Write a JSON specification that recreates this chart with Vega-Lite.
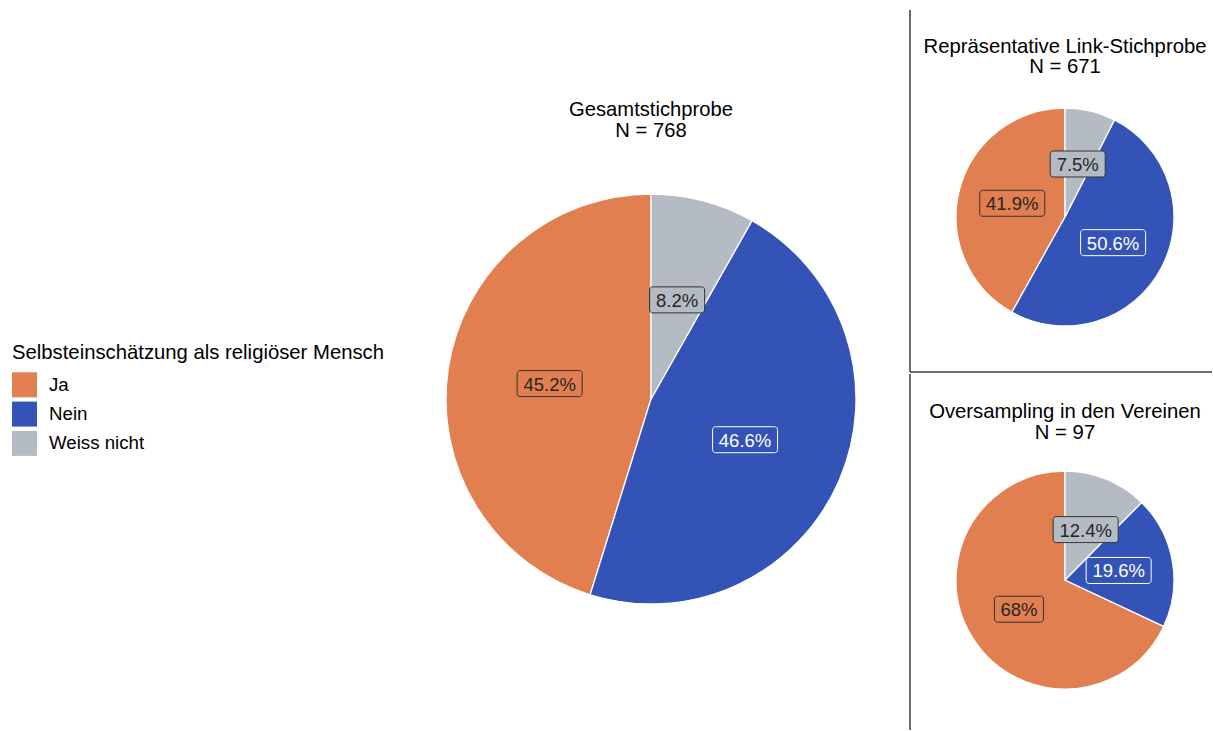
{
  "$schema": "https://vega.github.io/schema/vega-lite/v6.json",
  "padding": 0,
  "spacing": 0,
  "config": {
    "font": "Liberation Sans",
    "view": {"stroke": null},
    "axis": {"disable": true}
  },
  "datasets": {
    "pies": [
      {"panel": "Gesamt", "cat": "Ja", "pct": 45.2, "label": "45.2%"},
      {"panel": "Gesamt", "cat": "Nein", "pct": 46.6, "label": "46.6%"},
      {"panel": "Gesamt", "cat": "Weiss nicht", "pct": 8.2, "label": "8.2%"},
      {"panel": "Link", "cat": "Ja", "pct": 41.9, "label": "41.9%"},
      {"panel": "Link", "cat": "Nein", "pct": 50.6, "label": "50.6%"},
      {"panel": "Link", "cat": "Weiss nicht", "pct": 7.5, "label": "7.5%"},
      {"panel": "Over", "cat": "Ja", "pct": 68, "label": "68%"},
      {"panel": "Over", "cat": "Nein", "pct": 19.6, "label": "19.6%"},
      {"panel": "Over", "cat": "Weiss nicht", "pct": 12.4, "label": "12.4%"}
    ]
  },
  "resolve": {"scale": {"x": "independent", "y": "independent", "color": "independent"}},
  "hconcat": [
    {
      "width": 909,
      "height": 731,
      "data": {"name": "pies"},
      "transform": [
        {"filter": "datum.panel === 'Gesamt'"},
        {"calculate": "indexof(['Weiss nicht','Nein','Ja'], datum.cat)", "as": "ord"}
      ],
      "layer": [
        {
          "mark": {"type": "arc", "outerRadius": 205, "stroke": "white", "strokeWidth": 1.3},
          "encoding": {
            "x": {"datum": 0, "type": "quantitative", "scale": {"domain": [-3.17561, 1.25854], "nice": false, "zero": false}, "axis": null},
            "y": {"datum": 0, "type": "quantitative", "scale": {"domain": [-1.61951, 1.94634], "nice": false, "zero": false}, "axis": null},
            "theta": {"field": "pct", "type": "quantitative", "stack": true},
            "order": {"field": "ord", "type": "quantitative"},
            "color": {
              "field": "cat", "type": "nominal",
              "scale": {"domain": ["Ja", "Nein", "Weiss nicht"], "range": ["#E27F51", "#3353B7", "#B4BBC3"]},
              "legend": {
                "title": "Selbsteinschätzung als religiöser Mensch",
                "orient": "none", "legendX": 12, "legendY": 343,
                "padding": 0,
                "symbolType": "square", "symbolSize": 625, "symbolStrokeWidth": 0, "symbolOpacity": 1,
                "titleFontSize": 20.3, "titleFontWeight": "normal", "titleColor": "black", "titlePadding": 9, "titleLimit": 600,
                "labelFontSize": 18.7, "labelColor": "black", "labelOffset": 12,
                "rowPadding": 4.3
              }
            }
          }
        },
        {
          "transform": [
            {"joinaggregate": [{"op": "sum", "field": "pct", "as": "tot"}]},
            {"window": [{"op": "sum", "field": "pct", "as": "cum"}], "sort": [{"field": "ord"}], "frame": [null, 0]},
            {"calculate": "(datum.cum - datum.pct / 2) / datum.tot * 2 * PI", "as": "mid"},
            {"calculate": "0.5 * sin(datum.mid)", "as": "lx"},
            {"calculate": "0.5 * cos(datum.mid)", "as": "ly"},
            {"calculate": "length(datum.label)", "as": "len"}
          ],
          "layer": [
            {
              "mark": {"type": "point", "filled": true, "size": 4, "strokeWidth": 1, "opacity": 1},
              "encoding": {
                "x": {"field": "lx", "type": "quantitative"},
                "y": {"field": "ly", "type": "quantitative"},
                "color": {"field": "cat", "type": "nominal", "legend": null},
                "stroke": {"field": "cat", "type": "nominal", "scale": {"domain": ["Ja", "Nein", "Weiss nicht"], "range": ["#333333", "#ffffff", "#333333"]}, "legend": null},
                "shape": {"field": "len", "type": "nominal", "scale": {"domain": [3, 4, 5], "range": [
                  "M-21.5,-13H21.5A3,3 0 0 1 24.5,-10V10A3,3 0 0 1 21.5,13H-21.5A3,3 0 0 1 -24.5,10V-10A3,3 0 0 1 -21.5,-13Z",
                  "M-24.5,-13H24.5A3,3 0 0 1 27.5,-10V10A3,3 0 0 1 24.5,13H-24.5A3,3 0 0 1 -27.5,10V-10A3,3 0 0 1 -24.5,-13Z",
                  "M-29.5,-13H29.5A3,3 0 0 1 32.5,-10V10A3,3 0 0 1 29.5,13H-29.5A3,3 0 0 1 -32.5,10V-10A3,3 0 0 1 -29.5,-13Z"
                ]}, "legend": null}
              }
            },
            {
              "mark": {"type": "text", "fontSize": 18.5, "align": "center", "baseline": "middle", "dy": 1},
              "encoding": {
                "x": {"field": "lx", "type": "quantitative"},
                "y": {"field": "ly", "type": "quantitative"},
                "text": {"field": "label", "type": "nominal"},
                "fill": {"field": "cat", "type": "nominal", "scale": {"domain": ["Ja", "Nein", "Weiss nicht"], "range": ["#262626", "#ffffff", "#262626"]}, "legend": null}
              }
            }
          ]
        },
        {
          "data": {"values": [{}]},
          "mark": {"type": "text", "fontSize": 20.2, "align": "center", "baseline": "alphabetic", "lineHeight": 21, "color": "black"},
          "encoding": {
            "x": {"datum": 0, "type": "quantitative"},
            "y": {"datum": 1.38049, "type": "quantitative"},
            "text": {"value": ["Gesamtstichprobe", "N = 768"]}
          }
        }
      ]
    },
    {
      "resolve": {"scale": {"x": "independent", "y": "independent", "color": "independent"}},
      "spacing": 0,
      "vconcat": [
        {
          "width": 304,
          "height": 373,
          "data": {"name": "pies"},
          "transform": [
            {"filter": "datum.panel === 'Link'"},
            {"calculate": "indexof(['Weiss nicht','Nein','Ja'], datum.cat)", "as": "ord"}
          ],
          "layer": [
            {
              "mark": {"type": "arc", "outerRadius": 109, "stroke": "white", "strokeWidth": 1.3},
              "encoding": {
                "x": {"datum": 0, "type": "quantitative", "scale": {"domain": [-1.43119, 1.3578], "nice": false, "zero": false}, "axis": null},
                "y": {"datum": 0, "type": "quantitative", "scale": {"domain": [-1.43119, 1.99083], "nice": false, "zero": false}, "axis": null},
                "theta": {"field": "pct", "type": "quantitative", "stack": true},
                "order": {"field": "ord", "type": "quantitative"},
                "color": {
                  "field": "cat", "type": "nominal",
                  "scale": {"domain": ["Ja", "Nein", "Weiss nicht"], "range": ["#E27F51", "#3353B7", "#B4BBC3"]},
                  "legend": null
                }
              }
            },
            {
              "data": {"values": [{}]},
              "mark": {"type": "rule", "color": "#3d3d3d", "strokeWidth": 1.5},
              "encoding": {
                "x": {"datum": -1.422, "type": "quantitative"},
                "y": {"datum": 1.89908, "type": "quantitative"},
                "y2": {"datum": -1.42294}
              }
            },
            {
              "data": {"values": [{}]},
              "mark": {"type": "rule", "color": "#3d3d3d", "strokeWidth": 1.5},
              "encoding": {
                "x": {"datum": -1.422, "type": "quantitative"},
                "x2": {"datum": 1.34862},
                "y": {"datum": -1.42294, "type": "quantitative"}
              }
            },
            {
              "transform": [
                {"joinaggregate": [{"op": "sum", "field": "pct", "as": "tot"}]},
                {"window": [{"op": "sum", "field": "pct", "as": "cum"}], "sort": [{"field": "ord"}], "frame": [null, 0]},
                {"calculate": "(datum.cum - datum.pct / 2) / datum.tot * 2 * PI", "as": "mid"},
                {"calculate": "0.5 * sin(datum.mid)", "as": "lx"},
                {"calculate": "0.5 * cos(datum.mid)", "as": "ly"},
                {"calculate": "length(datum.label)", "as": "len"}
              ],
              "layer": [
                {
                  "mark": {"type": "point", "filled": true, "size": 4, "strokeWidth": 1, "opacity": 1},
                  "encoding": {
                    "x": {"field": "lx", "type": "quantitative"},
                    "y": {"field": "ly", "type": "quantitative"},
                    "color": {"field": "cat", "type": "nominal", "legend": null},
                    "stroke": {"field": "cat", "type": "nominal", "scale": {"domain": ["Ja", "Nein", "Weiss nicht"], "range": ["#333333", "#ffffff", "#333333"]}, "legend": null},
                    "shape": {"field": "len", "type": "nominal", "scale": {"domain": [3, 4, 5], "range": [
                      "M-21.5,-13H21.5A3,3 0 0 1 24.5,-10V10A3,3 0 0 1 21.5,13H-21.5A3,3 0 0 1 -24.5,10V-10A3,3 0 0 1 -21.5,-13Z",
                      "M-24.5,-13H24.5A3,3 0 0 1 27.5,-10V10A3,3 0 0 1 24.5,13H-24.5A3,3 0 0 1 -27.5,10V-10A3,3 0 0 1 -24.5,-13Z",
                      "M-29.5,-13H29.5A3,3 0 0 1 32.5,-10V10A3,3 0 0 1 29.5,13H-29.5A3,3 0 0 1 -32.5,10V-10A3,3 0 0 1 -29.5,-13Z"
                    ]}, "legend": null}
                  }
                },
                {
                  "mark": {"type": "text", "fontSize": 18.5, "align": "center", "baseline": "middle", "dy": 1},
                  "encoding": {
                    "x": {"field": "lx", "type": "quantitative"},
                    "y": {"field": "ly", "type": "quantitative"},
                    "text": {"field": "label", "type": "nominal"},
                    "fill": {"field": "cat", "type": "nominal", "scale": {"domain": ["Ja", "Nein", "Weiss nicht"], "range": ["#262626", "#ffffff", "#262626"]}, "legend": null}
                  }
                }
              ]
            },
            {
              "data": {"values": [{}]},
              "mark": {"type": "text", "fontSize": 20.3, "align": "center", "baseline": "alphabetic", "lineHeight": 20, "color": "black"},
              "encoding": {
                "x": {"datum": 0, "type": "quantitative"},
                "y": {"datum": 1.50734, "type": "quantitative"},
                "text": {"value": ["Repräsentative Link-Stichprobe", "N = 671"]}
              }
            }
          ]
        },
        {
          "width": 304,
          "height": 358,
          "data": {"name": "pies"},
          "transform": [
            {"filter": "datum.panel === 'Over'"},
            {"calculate": "indexof(['Weiss nicht','Nein','Ja'], datum.cat)", "as": "ord"}
          ],
          "layer": [
            {
              "mark": {"type": "arc", "outerRadius": 109, "stroke": "white", "strokeWidth": 1.3},
              "encoding": {
                "x": {"datum": 0, "type": "quantitative", "scale": {"domain": [-1.43119, 1.3578], "nice": false, "zero": false}, "axis": null},
                "y": {"datum": 0, "type": "quantitative", "scale": {"domain": [-1.38532, 1.89908], "nice": false, "zero": false}, "axis": null},
                "theta": {"field": "pct", "type": "quantitative", "stack": true},
                "order": {"field": "ord", "type": "quantitative"},
                "color": {
                  "field": "cat", "type": "nominal",
                  "scale": {"domain": ["Ja", "Nein", "Weiss nicht"], "range": ["#E27F51", "#3353B7", "#B4BBC3"]},
                  "legend": null
                }
              }
            },
            {
              "data": {"values": [{}]},
              "mark": {"type": "rule", "color": "#3d3d3d", "strokeWidth": 1.5},
              "encoding": {
                "x": {"datum": -1.422, "type": "quantitative"},
                "y": {"datum": 1.89083, "type": "quantitative"},
                "y2": {"datum": -1.37615}
              }
            },
            {
              "transform": [
                {"joinaggregate": [{"op": "sum", "field": "pct", "as": "tot"}]},
                {"window": [{"op": "sum", "field": "pct", "as": "cum"}], "sort": [{"field": "ord"}], "frame": [null, 0]},
                {"calculate": "(datum.cum - datum.pct / 2) / datum.tot * 2 * PI", "as": "mid"},
                {"calculate": "0.5 * sin(datum.mid)", "as": "lx"},
                {"calculate": "0.5 * cos(datum.mid)", "as": "ly"},
                {"calculate": "length(datum.label)", "as": "len"}
              ],
              "layer": [
                {
                  "mark": {"type": "point", "filled": true, "size": 4, "strokeWidth": 1, "opacity": 1},
                  "encoding": {
                    "x": {"field": "lx", "type": "quantitative"},
                    "y": {"field": "ly", "type": "quantitative"},
                    "color": {"field": "cat", "type": "nominal", "legend": null},
                    "stroke": {"field": "cat", "type": "nominal", "scale": {"domain": ["Ja", "Nein", "Weiss nicht"], "range": ["#333333", "#ffffff", "#333333"]}, "legend": null},
                    "shape": {"field": "len", "type": "nominal", "scale": {"domain": [3, 4, 5], "range": [
                      "M-21.5,-13H21.5A3,3 0 0 1 24.5,-10V10A3,3 0 0 1 21.5,13H-21.5A3,3 0 0 1 -24.5,10V-10A3,3 0 0 1 -21.5,-13Z",
                      "M-24.5,-13H24.5A3,3 0 0 1 27.5,-10V10A3,3 0 0 1 24.5,13H-24.5A3,3 0 0 1 -27.5,10V-10A3,3 0 0 1 -24.5,-13Z",
                      "M-29.5,-13H29.5A3,3 0 0 1 32.5,-10V10A3,3 0 0 1 29.5,13H-29.5A3,3 0 0 1 -32.5,10V-10A3,3 0 0 1 -29.5,-13Z"
                    ]}, "legend": null}
                  }
                },
                {
                  "mark": {"type": "text", "fontSize": 18.5, "align": "center", "baseline": "middle", "dy": 1},
                  "encoding": {
                    "x": {"field": "lx", "type": "quantitative"},
                    "y": {"field": "ly", "type": "quantitative"},
                    "text": {"field": "label", "type": "nominal"},
                    "fill": {"field": "cat", "type": "nominal", "scale": {"domain": ["Ja", "Nein", "Weiss nicht"], "range": ["#262626", "#ffffff", "#262626"]}, "legend": null}
                  }
                }
              ]
            },
            {
              "data": {"values": [{}]},
              "mark": {"type": "text", "fontSize": 20.3, "align": "center", "baseline": "alphabetic", "lineHeight": 21, "color": "black"},
              "encoding": {
                "x": {"datum": 0, "type": "quantitative"},
                "y": {"datum": 1.48624, "type": "quantitative"},
                "text": {"value": ["Oversampling in den Vereinen", "N = 97"]}
              }
            }
          ]
        }
      ]
    }
  ]
}
